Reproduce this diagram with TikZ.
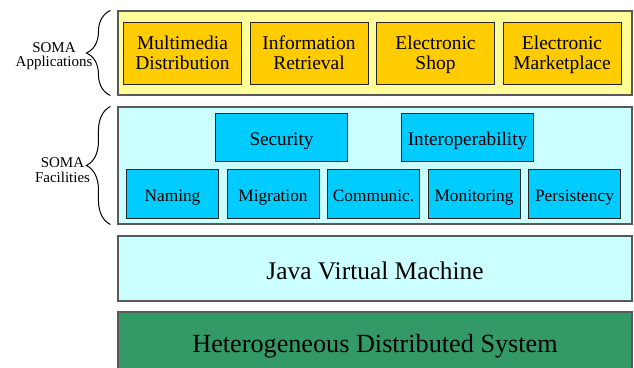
\documentclass[tikz,border=0pt]{standalone}
\usepackage{fontspec}
\setmainfont{Liberation Serif}
\usetikzlibrary{positioning,decorations.pathreplacing}
\definecolor{appback}{HTML}{FFFF99}
\definecolor{appfill}{HTML}{FFCC00}
\definecolor{facback}{HTML}{CCFFFF}
\definecolor{facfill}{HTML}{00CCFF}
\definecolor{sysfill}{HTML}{339966}

\begin{document}
\begin{tikzpicture}[x=1pt,y=-1pt,
    layer/.style={draw=black!65,line width=1.1pt,minimum width=514pt,inner sep=0pt,text depth=0pt},
    appbox/.style={draw=black!85,line width=1pt,fill=appfill,minimum width=118pt,minimum height=62pt,
                   inner sep=0pt,align=center,font=\fontsize{19.5}{20}\selectfont,
                   execute at begin node={\rule{0pt}{14.6pt}},
                   execute at end node={\rule[-1.6pt]{0pt}{0pt}}},
    facbox/.style={draw=black!85,line width=1pt,fill=facfill,minimum width=132pt,minimum height=48pt,
                   inner sep=0pt,text height=15pt,text depth=0pt,font=\fontsize{19.2}{20}\selectfont},
    svcbox/.style={draw=black!85,line width=1pt,fill=facfill,minimum width=92pt,minimum height=49pt,
                   inner sep=0pt,text height=14.4pt,text depth=0pt,font=\fontsize{17.3}{18}\selectfont},
    somabrace/.style={decorate,decoration={brace,amplitude=24pt},line width=1pt},
    somalabel/.style={align=center,inner sep=0pt,font=\fontsize{15}{14.5}\selectfont}]
    \useasboundingbox (0,0) rectangle (634,367);
    % layers
    \node[layer,fill=appback,minimum height=84pt] (apps) at (375,53) {};
    \node[layer,fill=facback,minimum height=117pt] (facs) at (375,165.5) {};
    \node[layer,fill=facback,minimum height=65pt,text height=21.8pt,
          font=\fontsize{25.4}{27}\selectfont] (jvm) at (375,268.5) {Java Virtual Machine};
    \node[layer,fill=sysfill,minimum height=66pt,text height=15.2pt,
          font=\fontsize{26.2}{28}\selectfont] (hds) at (375,345) {Heterogeneous Distributed System};
    % applications
    \node[appbox] (multimedia) at (182.5,53.5) {Multimedia\\Distribution};
    \node[appbox,right=7.5pt of multimedia] (retrieval) {Information\\Retrieval};
    \node[appbox,right=7.5pt of retrieval] (shop) {Electronic\\\smash{Shop}};
    \node[appbox,right=7.5pt of shop] (market) {Electronic\\\smash{Marketplace}};
    % facilities
    \node[facbox] (security) at (281.5,137.5) {Security};
    \node[facbox] (interop) at (467.5,137.5) {Interoperability};
    \node[svcbox] (naming) at (172.5,194) {Naming};
    \node[svcbox,right=7.5pt of naming] (migration) {Migration};
    \node[svcbox,right=7.5pt of migration] (communic) {Communic.};
    \node[svcbox,right=7.5pt of communic] (monitoring) {Monitoring};
    \node[svcbox,right=7.5pt of monitoring] (persistency) {Persistency};
    % braces
    \draw[somabrace] ([xshift=-7pt]apps.south west) -- ([xshift=-7pt]apps.north west);
    \draw[somabrace] ([xshift=-7pt]facs.south west) -- ([xshift=-7pt]facs.north west);
    \node[somalabel] (applabel) at (54,56) {SOMA\\Applications};
    \node[somalabel] (faclabel) at (62.5,170) {SOMA\\Facilities};
\end{tikzpicture}
\end{document}
